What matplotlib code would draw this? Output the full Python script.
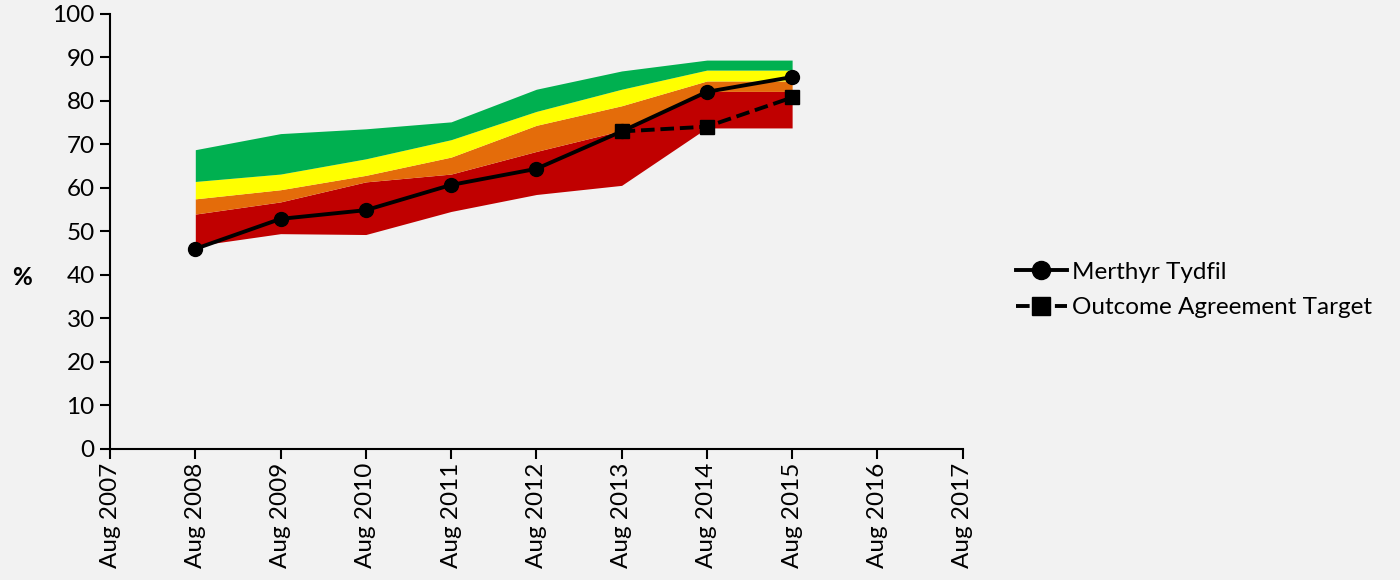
import matplotlib
matplotlib.use("Agg")
import matplotlib.pyplot as plt

years = ["Aug 2007", "Aug 2008", "Aug 2009", "Aug 2010", "Aug 2011", "Aug 2012",
         "Aug 2013", "Aug 2014", "Aug 2015", "Aug 2016", "Aug 2017"]

# quartile bands, Aug 2008 .. Aug 2015
band_years = [1, 2, 3, 4, 5, 6, 7, 8]
red_low = [46.7, 49.5, 49.3, 54.6, 58.5, 60.6, 73.8, 73.8]
red_high = [54.0, 56.8, 61.4, 63.2, 68.4, 73.2, 82.2, 82.2]
orange_high = [57.5, 59.6, 62.9, 67.1, 74.4, 78.9, 84.6, 84.6]
yellow_high = [61.5, 63.2, 66.7, 71.1, 77.6, 82.7, 87.1, 87.1]
green_high = [68.8, 72.5, 73.6, 75.2, 82.7, 86.9, 89.4, 89.4]

merthyr_x = [1, 2, 3, 4, 5, 6, 7, 8]
merthyr = [46.0, 52.9, 54.9, 60.7, 64.4, 73.0, 82.1, 85.5]

target_x = [6, 7, 8]
target = [73.0, 74.1, 80.8]

BG = "#f2f2f2"
FS = 17.5
plt.rcParams["font.family"] = ["Lato", "DejaVu Sans"]

fig = plt.figure(figsize=(14, 5.8), dpi=100, facecolor=BG)
ax = fig.add_axes([0.0786, 0.2259, 0.609, 0.75], facecolor=BG)

ax.fill_between(band_years, red_low, red_high, color="#c00000", lw=0)
ax.fill_between(band_years, red_high, orange_high, color="#e46c0a", lw=0)
ax.fill_between(band_years, orange_high, yellow_high, color="#ffff00", lw=0)
ax.fill_between(band_years, yellow_high, green_high, color="#00b050", lw=0)

ax.plot(merthyr_x, merthyr, color="black", lw=2.8, marker="o", ms=10,
        label="Merthyr Tydfil", zorder=5)
ax.plot(target_x, target, color="black", lw=2.8, ls=(0, (3.5, 1.5)), marker="s",
        ms=9.5, label="Outcome Agreement Target", zorder=6)

ax.set_xlim(0, 10)
ax.set_ylim(0, 100)
ax.set_xticks(range(len(years)))
ax.set_xticklabels(years, rotation=90, fontsize=FS)
ax.set_yticks(range(0, 101, 10))
ax.tick_params(axis="y", labelsize=FS, direction="out", length=7, width=1.5, pad=4)
ax.tick_params(axis="x", direction="out", length=7, width=1.5, pad=3)
for s in ("top", "right"):
    ax.spines[s].set_visible(False)
for s in ("left", "bottom"):
    ax.spines[s].set_linewidth(1.5)

ax.set_ylabel("%", rotation=0, fontsize=FS, fontweight="bold", va="center", ha="center")
ax.yaxis.set_label_coords(-0.103, 0.394)

fig.legend(loc="center left", bbox_to_anchor=(0.71, 0.5), frameon=False,
           fontsize=FS, handlelength=2.1, handletextpad=0.2, labelspacing=0.6,
           markerscale=1.3)

fig.savefig("out.png", dpi=100, facecolor=BG)
